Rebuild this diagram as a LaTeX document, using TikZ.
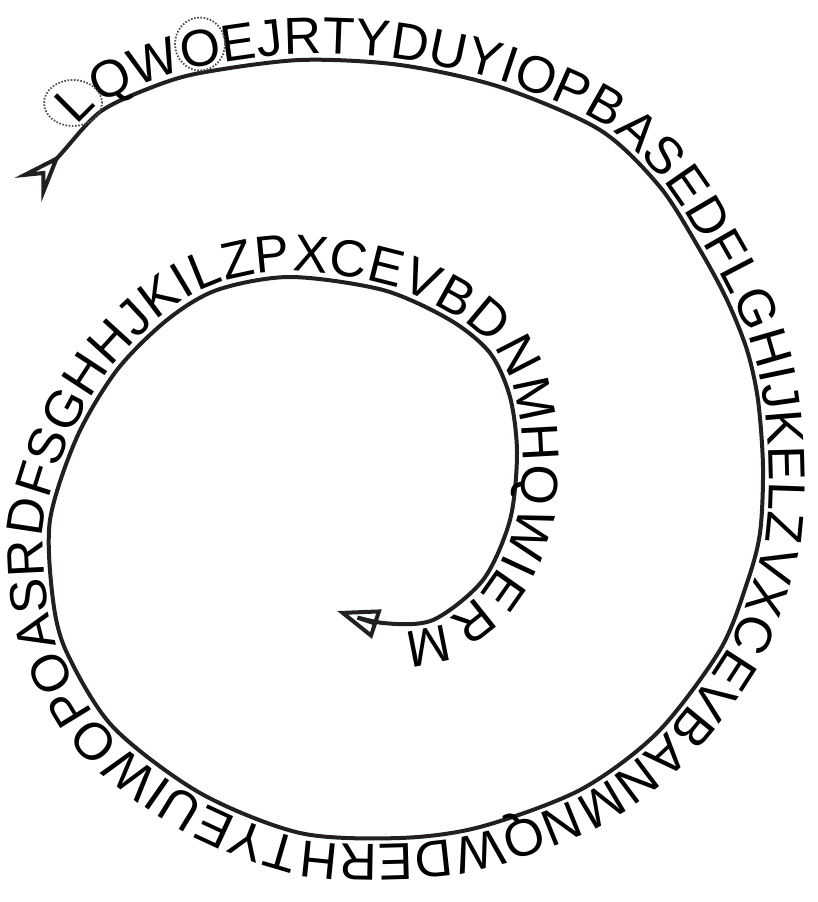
\documentclass[tikz,border=0pt]{standalone}
\usepackage{fontspec}
\setmainfont{Liberation Sans}
\usepackage{tikz}
\usetikzlibrary{arrows.meta,decorations.text,shapes.geometric}
\definecolor{spiralInk}{RGB}{35,31,32}
\definecolor{markGray}{RGB}{80,80,80}
\newcommand{\spiralfont}{\fontsize{52}{60}\selectfont}
\tikzset{
  spiral line/.style={line width=4pt,draw=spiralInk,{Stealth[open,reversed,length=48pt,width=36pt,inset=20pt]}-{Triangle[open,length=42pt,width=30pt]}},
  spiral text/.style={postaction={decorate,decoration={text along path,raise=6pt,text align={left indent=80pt},
    text={|\spiralfont|LQWOEJRTYDUYIOPBASEDFLGHIJKELZVXCEVBANMNQWDERHTYEUIWOPOASRDFSGHHJKILZPXCEVBDNMHQWIERM}}}},
  letter mark/.style={ellipse,draw=markGray,line width=1.8pt,dash pattern=on 1.6pt off 1.6pt,inner sep=0pt}
}

\begin{document}
\begin{tikzpicture}[x=1pt,y=1pt]
  \useasboundingbox (0,0) rectangle (817,902);
  \coordinate (tail) at (28,712);
  \coordinate (head) at (337,291);
  % outer turn first, then the inner one
  \draw[spiral line,spiral text] plot[smooth] coordinates {(tail) (60,747) (100,790) (150,814) (200,829) (300,842)
    (400,837) (500,815) (600,772) (660,715) (700,652) (727,602) (747,552) (758,502) (763,435) (760,369)
    (747,319) (720,252) (657,169) (580,112) (480,75) (400,64) (300,69) (200,109) (113,175) (67,249)
    (53,302) (50,382) (77,465) (117,532) (167,582) (217,612) (290,625) (383,612) (450,582) (490,549)
    (510,505) (517,449) (510,382) (483,322) (433,282) (383,279) (head)};
  \node[letter mark,minimum width=58pt,minimum height=46pt] (markL) at (73,799) {};
  \node[letter mark,minimum width=50pt,minimum height=53pt] (markO) at (200,858) {};
\end{tikzpicture}
\end{document}
